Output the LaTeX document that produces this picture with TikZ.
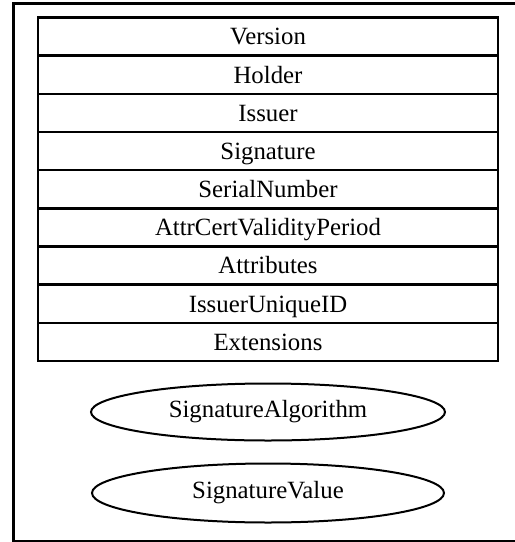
\documentclass[tikz,border=0pt]{standalone}
\usepackage{fontspec}
\setmainfont{Liberation Serif}
\usetikzlibrary{shapes.geometric}
\begin{document}
\begin{tikzpicture}[x=1pt,y=-1pt,
  rowbox/.style={draw, line width=2.5pt, minimum width=460pt, minimum height=38.17pt, inner sep=0pt, text height=21.5pt, text depth=5pt, font=\fontsize{24.8}{26}\selectfont, anchor=center},
  ovalbox/.style={draw, ellipse, line width=2pt, minimum width=354pt, inner sep=0pt, font=\fontsize{24.8}{26}\selectfont}]
\useasboundingbox (0,0) rectangle (515,542);
\draw[line width=3pt] (13.5,3.5) rectangle (517,541.5);
\foreach \t [count=\i from 0] in {Version,Holder,Issuer,Signature,SerialNumber,AttrCertValidityPeriod,Attributes,IssuerUniqueID,Extensions}{
  \node[rowbox] (r\i) at (268,{17.5+38.17*(\i+0.5)}) {\t};
}
\node[ovalbox, minimum height=57pt] (alg) at (268,412) {SignatureAlgorithm};
\node[ovalbox, minimum height=59pt, minimum width=352pt] (val) at (268,493) {SignatureValue};
\end{tikzpicture}
\end{document}
